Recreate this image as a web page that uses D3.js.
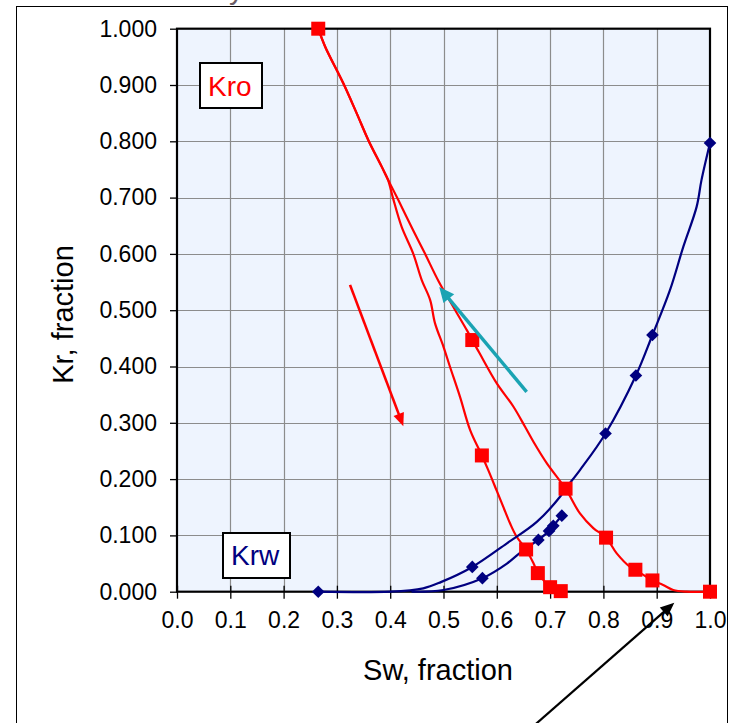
<!DOCTYPE html>
<html><head><meta charset="utf-8">
<script src="https://cdn.jsdelivr.net/npm/d3@7"></script>
<style>body{margin:0;background:#fff}svg{display:block}</style>
</head><body>
<svg id="c" width="729" height="723"></svg>
<script>
// ---- data ----
const xTicks = [0.0,0.1,0.2,0.3,0.4,0.5,0.6,0.7,0.8,0.9,1.0];
const yTicks = [0.0,0.1,0.2,0.3,0.4,0.5,0.6,0.7,0.8,0.9,1.0];

// Kro, steeper (left) curve
const kroLeftSw = [0.265,0.278,0.312,0.337,0.359,0.384,0.396,0.405,0.4215,0.443,0.459,0.475,0.484,0.500,0.512,0.531,0.550,0.572,0.584,0.600,0.612,0.625,0.637,0.655,0.669,0.677,0.687,0.700,0.720];
const kroLeftK  = [1.000,0.968,0.903,0.850,0.802,0.755,0.731,0.700,0.648,0.601,0.554,0.518,0.477,0.435,0.400,0.346,0.287,0.242,0.216,0.179,0.151,0.121,0.098,0.075,0.050,0.033,0.021,0.008,0.001];
// Kro, right curve
const kroRightSw = [0.265,0.278,0.312,0.337,0.359,0.384,0.398,0.415,0.443,0.465,0.491,0.522,0.5435,0.554,0.568,0.600,0.631,0.653,0.669,0.694,0.729,0.756,0.781,0.805,0.825,0.850,0.860,0.875,0.892,0.912,0.931,0.956,1.000];
const kroRightK  = [1.000,0.968,0.903,0.850,0.802,0.755,0.728,0.696,0.642,0.601,0.551,0.500,0.465,0.447,0.423,0.370,0.329,0.293,0.266,0.228,0.183,0.139,0.113,0.096,0.068,0.044,0.039,0.030,0.020,0.012,0.003,0.000,0.000];
// Kro markers
const kroPtsASw = [0.265,0.572,0.655,0.677,0.700,0.720];
const kroPtsAK  = [1.000,0.242,0.075,0.033,0.008,0.001];
const kroPtsBSw = [0.554,0.729,0.805,0.860,0.892,1.000];
const kroPtsBK  = [0.447,0.183,0.096,0.039,0.020,0.000];

// Krw upper curve
const krwUpSw = [0.265,0.400,0.462,0.495,0.554,0.619,0.675,0.719,0.729,0.756,0.804,0.861,0.892,0.925,0.950,0.975,0.984,1.000];
const krwUpK  = [0.000,0.000,0.006,0.017,0.044,0.086,0.124,0.169,0.183,0.216,0.281,0.384,0.456,0.536,0.613,0.684,0.731,0.797];
// Krw lower curve
const krwLoSw = [0.440,0.500,0.573,0.619,0.650,0.678,0.698,0.706,0.722];
const krwLoK  = [0.000,0.003,0.024,0.050,0.074,0.092,0.108,0.117,0.135];
// Krw markers
const krwPtsASw = [0.265,0.554,0.804,0.861,0.892,1.000];
const krwPtsAK  = [0.000,0.044,0.281,0.384,0.456,0.797];
const krwPtsBSw = [0.573,0.678,0.698,0.706,0.722];
const krwPtsBK  = [0.024,0.092,0.108,0.117,0.135];

// annotation arrows (data units: [sw, kr] from -> to)
const redArrow   = [[0.3246,0.545],[0.4246,0.294]];
const tealArrow  = [[0.656,0.355],[0.492,0.541]];
const blackArrow = [[0.672,-0.236],[0.933,-0.0195]];

// ---- drawing ----
const svg = d3.select("#c");
const FONT = "'Liberation Sans', Arial, sans-serif";
const L = 177, R = 710, T = 28.7, B = 591.7;
const x = d3.scaleLinear().domain([0,1]).range([L,R]);
const y = d3.scaleLinear().domain([0,1]).range([B,T]);
const zip = (a,b) => a.map((v,i)=>[v,b[i]]);

// partial title glyph cut at top (title lies above the visible area, as in the reference)
svg.append("text").attr("x",229).attr("y",-1.5).attr("font-family",FONT).attr("font-size",30)
  .attr("fill","#6b5d66").text("y");

// outer frame
svg.append("rect").attr("x",16.5).attr("y",6.5).attr("width",711).attr("height",760)
  .attr("fill","#fff").attr("stroke","#000").attr("stroke-width",1);

// plot bg
svg.append("rect").attr("x",L).attr("y",T).attr("width",R-L).attr("height",B-T).attr("fill","#eef4fe");

// grid
const g = svg.append("g");
g.selectAll(".gx").data(xTicks.slice(1,-1)).join("line")
  .attr("x1",d=>Math.round(x(d))+0.5).attr("x2",d=>Math.round(x(d))+0.5).attr("y1",T).attr("y2",B)
  .attr("stroke","#8c8c8c").attr("stroke-width",1.2);
g.selectAll(".gy").data(yTicks.slice(1,-1)).join("line")
  .attr("y1",d=>Math.round(y(d))+0.5).attr("y2",d=>Math.round(y(d))+0.5).attr("x1",L).attr("x2",R)
  .attr("stroke","#8c8c8c").attr("stroke-width",1.2);

// axes with d3
const xAxis = d3.axisBottom(x).tickValues(xTicks).tickFormat(d3.format(".1f")).tickSize(7).tickPadding(14);
const yAxis = d3.axisLeft(y).tickValues(yTicks).tickFormat(d3.format(".3f")).tickSize(7).tickPadding(14);
const gx = svg.append("g").attr("transform",`translate(0,${B})`).call(xAxis);
const gy = svg.append("g").attr("transform",`translate(${L},0)`).call(yAxis);
[gx,gy].forEach(a=>{
  a.select(".domain").remove();
  a.selectAll(".tick line").attr("stroke","#000").attr("stroke-width",1.3);
  a.selectAll(".tick text").attr("font-family",FONT).attr("font-size",23).attr("fill","#000");
});
gx.selectAll(".tick line").attr("y1",-6);
gx.selectAll(".tick text").attr("dy","0.71em").attr("y",20);
gy.selectAll(".tick text").attr("x",-20);

// plot border
svg.append("rect").attr("x",L).attr("y",T).attr("width",R-L).attr("height",B-T)
  .attr("fill","none").attr("stroke","#000").attr("stroke-width",2.2);

// curves
const line = d3.line().x(d=>x(d[0])).y(d=>y(d[1])).curve(d3.curveCatmullRom.alpha(0.5));
const RED = "#ff0000", NAVY = "#000080";
[[kroLeftSw,kroLeftK],[kroRightSw,kroRightK]].forEach(([a,b])=>{
  svg.append("path").datum(zip(a,b)).attr("d",line).attr("fill","none").attr("stroke",RED).attr("stroke-width",2.2);
});
[[krwUpSw,krwUpK],[krwLoSw,krwLoK]].forEach(([a,b])=>{
  svg.append("path").datum(zip(a,b)).attr("d",line).attr("fill","none").attr("stroke",NAVY).attr("stroke-width",2.2);
});

// markers
[[krwPtsASw,krwPtsAK],[krwPtsBSw,krwPtsBK]].forEach(([a,b])=>{
  svg.append("g").selectAll("path").data(zip(a,b)).join("path")
    .attr("transform",d=>`translate(${x(d[0])},${y(d[1])}) rotate(45)`)
    .attr("d",d3.symbol().type(d3.symbolSquare).size(80)).attr("fill",NAVY);
});
[[kroPtsASw,kroPtsAK],[kroPtsBSw,kroPtsBK]].forEach(([a,b])=>{
  svg.append("g").selectAll("rect").data(zip(a,b)).join("rect")
    .attr("x",d=>x(d[0])-7).attr("y",d=>y(d[1])-7).attr("width",14).attr("height",14).attr("fill",RED);
});

// arrows
function arrow(p, color, w, head, hw){
  const x1=x(p[0][0]), y1=y(p[0][1]), x2=x(p[1][0]), y2=y(p[1][1]);
  const ang=Math.atan2(y2-y1,x2-x1);
  const bx=x2-head*Math.cos(ang), by=y2-head*Math.sin(ang);
  svg.append("line").attr("x1",x1).attr("y1",y1).attr("x2",bx+2*Math.cos(ang)).attr("y2",by+2*Math.sin(ang))
    .attr("stroke",color).attr("stroke-width",w);
  const px=-Math.sin(ang)*hw, py=Math.cos(ang)*hw;
  svg.append("path").attr("d",`M${x2},${y2}L${bx+px},${by+py}L${bx-px},${by-py}Z`).attr("fill",color);
}
arrow(redArrow, RED, 2.6, 13, 5.5);
arrow(tealArrow, "#1aa3b3", 3.4, 15, 7);
arrow(blackArrow, "#000", 2.2, 14, 6);

// labels
function label(bx,by,bw,bh,tx,ty,txt,col){
  svg.append("rect").attr("x",bx).attr("y",by).attr("width",bw).attr("height",bh)
    .attr("fill","#fff").attr("stroke","#000").attr("stroke-width",2);
  svg.append("text").attr("x",tx).attr("y",ty).attr("font-family",FONT).attr("font-size",28)
    .attr("fill",col).text(txt);
}
label(200,63,62,45,208,96,"Kro",RED);
label(223,533,67,45,231,564.5,"Krw",NAVY);

// axis titles
svg.append("text").attr("x",438).attr("y",680).attr("text-anchor","middle")
  .attr("font-family",FONT).attr("font-size",29).text("Sw, fraction");
svg.append("text").attr("transform","translate(73,314.5) rotate(-90)").attr("text-anchor","middle")
  .attr("font-family",FONT).attr("font-size",29).text("Kr, fraction");
</script>
</body></html>
